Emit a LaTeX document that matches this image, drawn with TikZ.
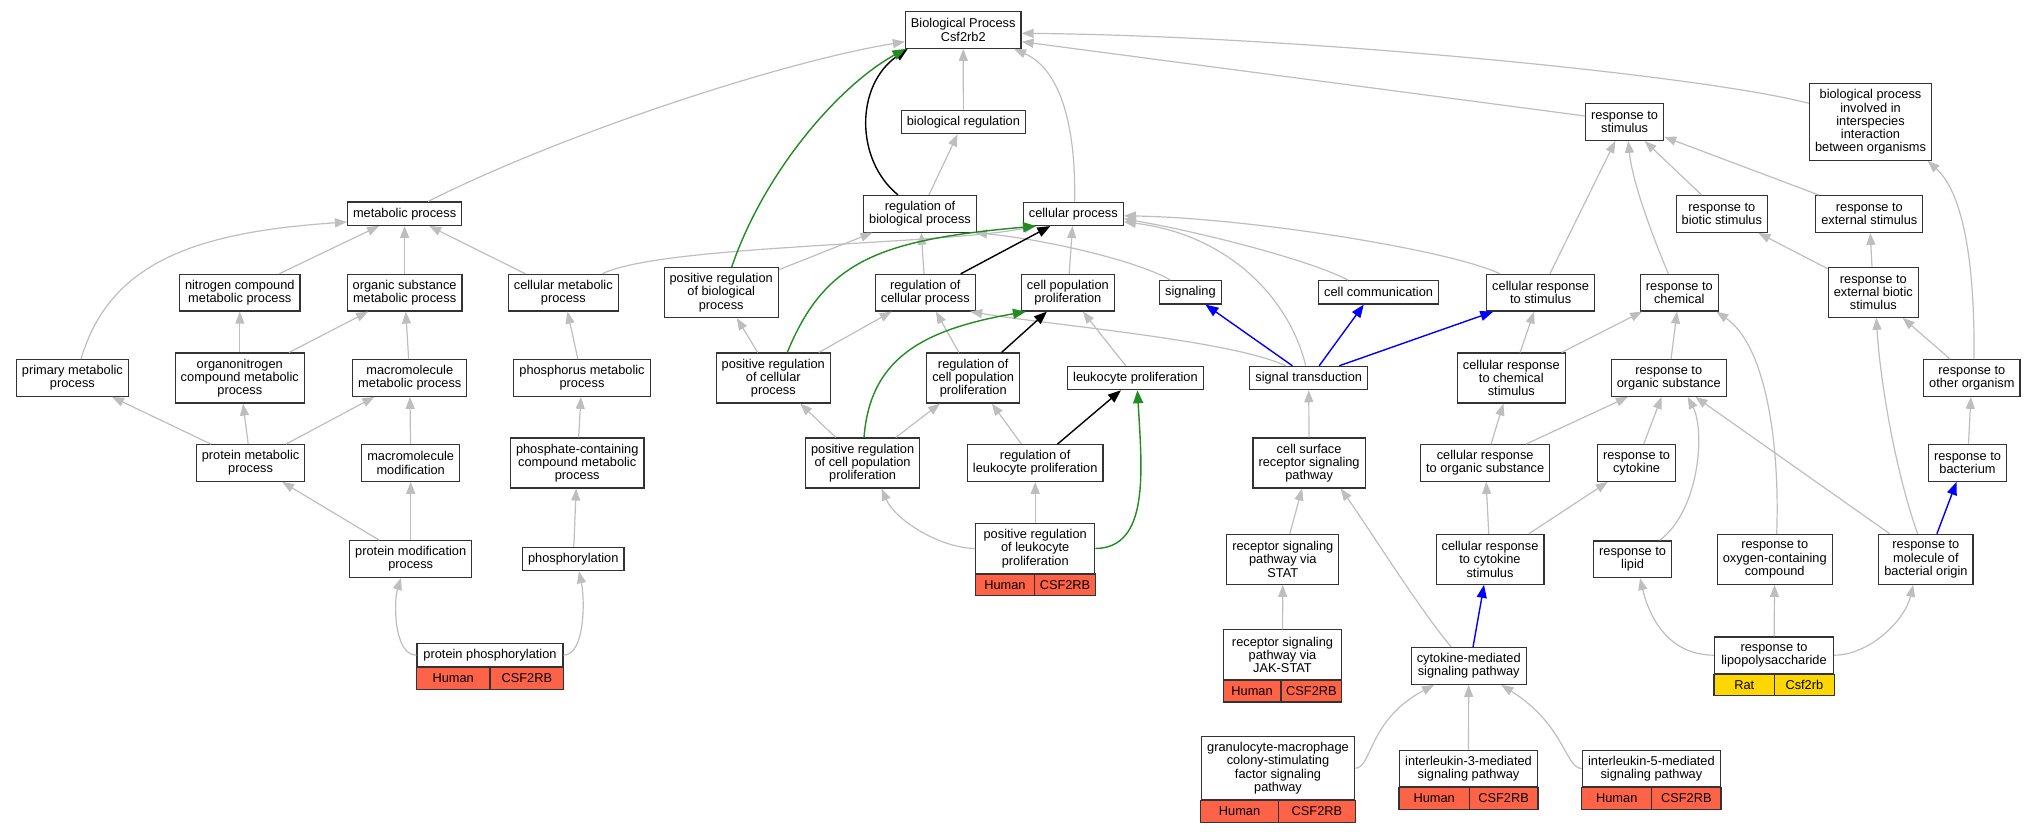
\documentclass[tikz,border=0pt]{standalone}
\usepackage{fontspec}
\setmainfont{Liberation Sans}
\usetikzlibrary{arrows.meta,calc}
\definecolor{isagray}{HTML}{BEBEBE}
\definecolor{posgreen}{HTML}{228B22}
\definecolor{partblue}{HTML}{0000FF}
\definecolor{human}{HTML}{FF6347}
\definecolor{rat}{HTML}{FFD700}
\begin{document}
\begin{tikzpicture}[x=1pt,y=-1pt,>={Triangle[length=12pt,width=9pt]},
  font=\fontsize{12.8}{13.3}\selectfont,
  term/.style={draw=black!80,line width=1.2pt,fill=white,align=center,inner xsep=5.5pt,inner ysep=1pt,minimum height={#1*13.3pt+10pt}},
  term/.default=1,
  isa/.style={->,draw=isagray,line width=1.2pt},
  reg/.style={-{Triangle[length=13pt,width=10pt]},line width=1.4pt},
  posreg/.style={reg,draw=posgreen},
  partof/.style={reg,draw=partblue},
  cellline/.style={draw=black!80,line width=1.2pt}]
\useasboundingbox (0,0) rectangle (2036,832);

\node[term=2] (bp) at (963.2,30) {Biological Process\\Csf2rb2};
\node[term] (breg) at (963.4,122) {biological regulation};
\node[term=2] (rbp) at (920,213.8) {regulation of\\biological process};
\node[term] (cp) at (1073.3,213.8) {cellular process};
\node[term] (mp) at (404.6,213.7) {metabolic process};
\node[term=2] (ncmp) at (239.8,292.7) {nitrogen compound\\metabolic process};
\node[term=2] (osmp) at (404.6,292.7) {organic substance\\metabolic process};
\node[term=2] (cmp) at (563.3,292.7) {cellular metabolic\\process};
\node[term=3] (prbp) at (721.2,292.5) {positive regulation\\of biological\\process};
\node[term=2] (rcp) at (925.3,292.7) {regulation of\\cellular process};
\node[term=2] (cpp) at (1067.9,292.7) {cell population\\proliferation};
\node[term] (sig) at (1190.4,292.3) {signaling};
\node[term] (ccom) at (1378.6,292.3) {cell communication};
\node[term=2] (crs) at (1540.6,292.7) {cellular response\\to stimulus};
\node[term=2] (rchem) at (1679.3,292.7) {response to\\chemical};
\node[term=3] (rebs) at (1873.3,292.3) {response to\\external biotic\\stimulus};
\node[term=2] (rs) at (1624.6,122) {response to\\stimulus};
\node[term=5] (bpii) at (1870.5,122) {biological process\\involved in\\interspecies\\interaction\\between organisms};
\node[term=2] (rbs) at (1721.8,214) {response to\\biotic stimulus};
\node[term=2] (res) at (1869.3,214) {response to\\external stimulus};
\node[term=2] (roo) at (1971.8,378) {response to\\other organism};
\node[term=3] (crcs) at (1511.3,378) {cellular response\\to chemical\\stimulus};
\node[term=2] (ros) at (1668.7,378) {response to\\organic substance};
\node[term=2] (pmp) at (72.4,378) {primary metabolic\\process};
\node[term=3] (oncmp) at (239.8,378) {organonitrogen\\compound metabolic\\process};
\node[term=2] (mmp) at (409.8,378) {macromolecule\\metabolic process};
\node[term=2] (phmp) at (582,378) {phosphorus metabolic\\process};
\node[term=3] (prcp) at (773.3,378) {positive regulation\\of cellular\\process};
\node[term=3] (rcpp) at (973.2,378) {regulation of\\cell population\\proliferation};
\node[term] (lp) at (1135.4,378) {leukocyte proliferation};
\node[term] (st) at (1308.7,378) {signal transduction};
\node[term=2] (prmp) at (250.6,463) {protein metabolic\\process};
\node[term=2] (mm) at (410.7,463) {macromolecule\\modification};
\node[term=3] (pccmp) at (577.2,463) {phosphate-containing\\compound metabolic\\process};
\node[term=3] (prcpp) at (862.6,463) {positive regulation\\of cell population\\proliferation};
\node[term=2] (rlp) at (1035.2,463) {regulation of\\leukocyte proliferation};
\node[term=3] (csrsp) at (1309.1,463) {cell surface\\receptor signaling\\pathway};
\node[term=2] (cros) at (1485.2,463) {cellular response\\to organic substance};
\node[term=2] (rcyt) at (1636.5,463) {response to\\cytokine};
\node[term=2] (rbac) at (1967.5,463) {response to\\bacterium};
\node[term=2] (pmod) at (410.7,559) {protein modification\\process};
\node[term] (phos) at (573.3,559) {phosphorylation};
\node[term=3] (rstat) at (1282.8,559.3) {receptor signaling\\pathway via\\STAT};
\node[term=3] (crcyt) at (1490,559.3) {cellular response\\to cytokine\\stimulus};
\node[term=2] (rlip) at (1632.6,559.2) {response to\\lipid};
\node[term=3] (roxy) at (1774.7,559.3) {response to\\oxygen-containing\\compound};
\node[term=3] (rmbo) at (1925.9,559.3) {response to\\molecule of\\bacterial origin};
\node[term=2] (cmsp) at (1468.7,666) {cytokine-mediated\\signaling pathway};

\node[term,minimum width=146pt] (pphos) at (490,655.2) {protein phosphorylation};
\node[term=3,minimum width=119pt] (prlp) at (1035.2,548.5) {positive regulation\\of leukocyte\\proliferation};
\node[term=3,minimum width=117.5pt] (jak) at (1282.5,654.8) {receptor signaling\\pathway via\\JAK-STAT};
\node[term=4,minimum width=153.6pt] (gmcsf) at (1278,768.2) {granulocyte-macrophage\\colony-stimulating\\factor signaling\\pathway};
\node[term=2,minimum width=119pt] (lps) at (1774,655.2) {response to\\lipopolysaccharide};
\node[term=2,minimum width=137.5pt] (il3) at (1468.5,768.5) {interleukin-3-mediated\\signaling pathway};
\node[term=2,minimum width=138pt] (il5) at (1651.4,768.5) {interleukin-5-mediated\\signaling pathway};

\foreach \n/\s/\g/\col/\fr in {pphos/Human/CSF2RB/human/.5,prlp/Human/CSF2RB/human/.496,jak/Human/CSF2RB/human/.487,gmcsf/Human/CSF2RB/human/.503,lps/Rat/Csf2rb/rat/.505,il3/Human/CSF2RB/human/.505,il5/Human/CSF2RB/human/.502}
{
  \pgfmathsetmacro\fa{\fr/2}
  \pgfmathsetmacro\fb{(1+\fr)/2}
  \draw[cellline,fill=\col] (\n.south west) rectangle ([yshift=-21.7pt]\n.south east);
  \draw[cellline] ($(\n.south west)!\fr!(\n.south east)$) -- ++(0,21.7);
  \node (\n-sp) at ($(\n.south west)!\fa!(\n.south east)+(0,10.85)$) {\s};
  \node (\n-gn) at ($(\n.south west)!\fb!(\n.south east)+(0,10.85)$) {\g};
}

\draw[isa] ([xshift=23.4pt]mp.north) .. controls (560,135) and (780,62) .. ([yshift=-11.7pt]bp.west);
\draw[isa] (breg) -- (bp);
\draw[isa] ([xshift=1.3pt]cp.north) .. controls (1076,130) and (1062,70) .. ([xshift=50.8pt]bp.south);
\draw[isa] ([yshift=6pt]rs.west) -- ([yshift=-11.7pt]bp.east);
\draw[isa] ([yshift=18.7pt]bpii.west) .. controls (1700,75) and (1300,36) .. ([yshift=-3.3pt]bp.east);
\draw[isa] (rbp) -- (breg);
\draw[isa] (rcp) -- (rbp);
\draw[isa] (prbp) -- (rbp);
\draw[isa] ([xshift=-20pt]sig.north) .. controls (1140,262) and (1050,240) .. ([xshift=-2pt]rbp.south east);
\draw[isa] (ncmp) -- (mp);
\draw[isa] (osmp) -- (mp);
\draw[isa] (cmp) -- (mp);
\draw[isa] ([xshift=8.6pt]pmp.north) .. controls (110,260) and (200,232) .. ([yshift=-8.3pt]mp.west);
\draw[isa] (oncmp) -- (ncmp);
\draw[isa] (oncmp) -- (osmp);
\draw[isa] (mmp) -- (osmp);
\draw[isa] (phmp) -- (cmp);
\draw[isa] ([xshift=39pt]cmp.north) .. controls (660,245) and (940,245) .. ([xshift=-37.3pt]cp.south);
\draw[isa] (pmod) -- (prmp);
\draw[isa] (pmod) -- (mm);
\draw[isa] (prmp) -- (pmp);
\draw[isa] (prmp) -- (oncmp);
\draw[isa] (prmp) -- (mmp);
\draw[isa] (mm) -- (mmp);
\draw[isa] (pccmp) -- (phmp);
\draw[isa] (phos) -- (pccmp);
\draw[isa] (pphos.west) .. controls (393,655) and (394,600) .. ([xshift=-9.7pt]pmod.south);
\draw[isa] (pphos.east) .. controls (585,655) and (585,600) .. ([xshift=5.7pt]phos.south);
\draw[isa] (prcp) -- (prbp);
\draw[isa] (prcp) -- (rcp);
\draw[isa] (rcpp) -- (rcp);
\draw[isa] (prcpp) -- (prcp);
\draw[isa] (prcpp) -- (rcpp);
\draw[isa] (rlp) -- (rcpp);
\draw[isa] (prlp) -- (rlp);
\draw[isa] (prlp.west) .. controls (940,548) and (895,520) .. ([xshift=19pt]prcpp.south);
\draw[isa] (lp) -- (cpp);
\draw[isa] (cpp) -- (cp);
\draw[isa] ([xshift=-23pt]st.north) .. controls (1230,340) and (1050,325) .. ([xshift=-5.7pt]rcp.south east);
\draw[isa] ([xshift=-3pt]st.north) .. controls (1290,300) and (1230,235) .. ([yshift=-8pt]cp.east);
\draw[isa] ([xshift=-30.6pt]ccom.north) .. controls (1310,260) and (1200,232) .. ([yshift=-5pt]cp.east);
\draw[isa] ([xshift=-40.6pt]crs.north) .. controls (1450,250) and (1250,218) .. ([yshift=-2pt]cp.east);
\draw[isa] (csrsp) -- (st);
\draw[isa] (crcs) -- (crs);
\draw[isa] (crcs) -- (rchem);
\draw[isa] (crs) -- (rs);
\draw[isa] ([xshift=-11pt]rchem.north) .. controls (1650,230) and (1632,180) .. ([xshift=3.7pt]rs.south);
\draw[isa] (rbs) -- (rs);
\draw[isa] (res) -- (rs);
\draw[isa] (rebs) -- (rbs);
\draw[isa] (rebs) -- (res);
\draw[isa] (roo) -- (rebs);
\draw[isa] ([xshift=2.2pt]roo.north) .. controls (1975,250) and (1960,190) .. ([xshift=57pt]bpii.south);
\draw[isa] (ros) -- (rchem);
\draw[isa] ([xshift=-8.3pt]rmbo.north) .. controls (1895,470) and (1880,380) .. ([xshift=3pt]rebs.south);
\draw[isa] (rbac) -- (roo);
\draw[isa] (rmbo) -- (ros);
\draw[isa] ([xshift=2pt]roxy.north) .. controls (1780,440) and (1765,345) .. ([xshift=-2.5pt]rchem.south east);
\draw[isa] (cros) -- (ros);
\draw[isa] (cros) -- (crcs);
\draw[isa] (rcyt) -- (ros);
\draw[isa] ([xshift=-12.5pt]rlip.north east) .. controls (1700,510) and (1705,430) .. ([xshift=19pt]ros.south);
\draw[isa] (crcyt) -- (cros);
\draw[isa] (crcyt) -- (rcyt);
\draw[isa] ([xshift=-17.3pt]cmsp.north) .. controls (1420,610) and (1370,530) .. ([xshift=-25pt]csrsp.south east);
\draw[isa] (rstat) -- (csrsp);
\draw[isa] (jak) -- (rstat);
\draw[isa] (lps.west) .. controls (1670,655) and (1650,620) .. ([xshift=7.4pt]rlip.south);
\draw[isa] (lps) -- (roxy);
\draw[isa] (lps.east) .. controls (1870,655) and (1905,620) .. ([xshift=-12.7pt]rmbo.south);
\draw[isa] (gmcsf.east) .. controls (1372,768) and (1368,720) .. ([xshift=-34.7pt]cmsp.south);
\draw[isa] (il3) -- (cmsp);
\draw[isa] (il5.west) .. controls (1565,768) and (1565,725) .. ([xshift=32.6pt]cmsp.south);

\draw[reg] ([xshift=-22pt]rbp.north) .. controls (855,160) and (855,85) .. ([xshift=-55.5pt]bp.south);
\draw[reg] (rcp) -- (cp);
\draw[reg] (rcpp) -- (cpp);
\draw[reg] (rlp) -- (lp);

\draw[posreg] ([xshift=10.5pt]prbp.north) .. controls (765,170) and (840,85) .. ([xshift=-57.7pt]bp.south);
\draw[posreg] ([xshift=14pt]prcp.north) .. controls (825,260) and (880,240) .. ([xshift=-37.3pt]cp.south);
\draw[posreg] ([xshift=1.4pt]prcpp.north) .. controls (870,360) and (920,330) .. ([xshift=-42pt]cpp.south);
\draw[posreg] (prlp.east) .. controls (1150,548) and (1142,470) .. ([xshift=2pt]lp.south);

\draw[partof] ([xshift=-16.3pt]st.north) -- ([xshift=15pt]sig.south);
\draw[partof] ([xshift=10.5pt]st.north) -- ([xshift=-14.8pt]ccom.south);
\draw[partof] ([xshift=30.6pt]st.north) -- ([xshift=-47.3pt]crs.south);
\draw[partof] ([xshift=11pt]rmbo.north) -- ([xshift=-11pt]rbac.south);
\draw[partof] ([xshift=4.3pt]cmsp.north) -- ([xshift=-6pt]crcyt.south);
\end{tikzpicture}
\end{document}
